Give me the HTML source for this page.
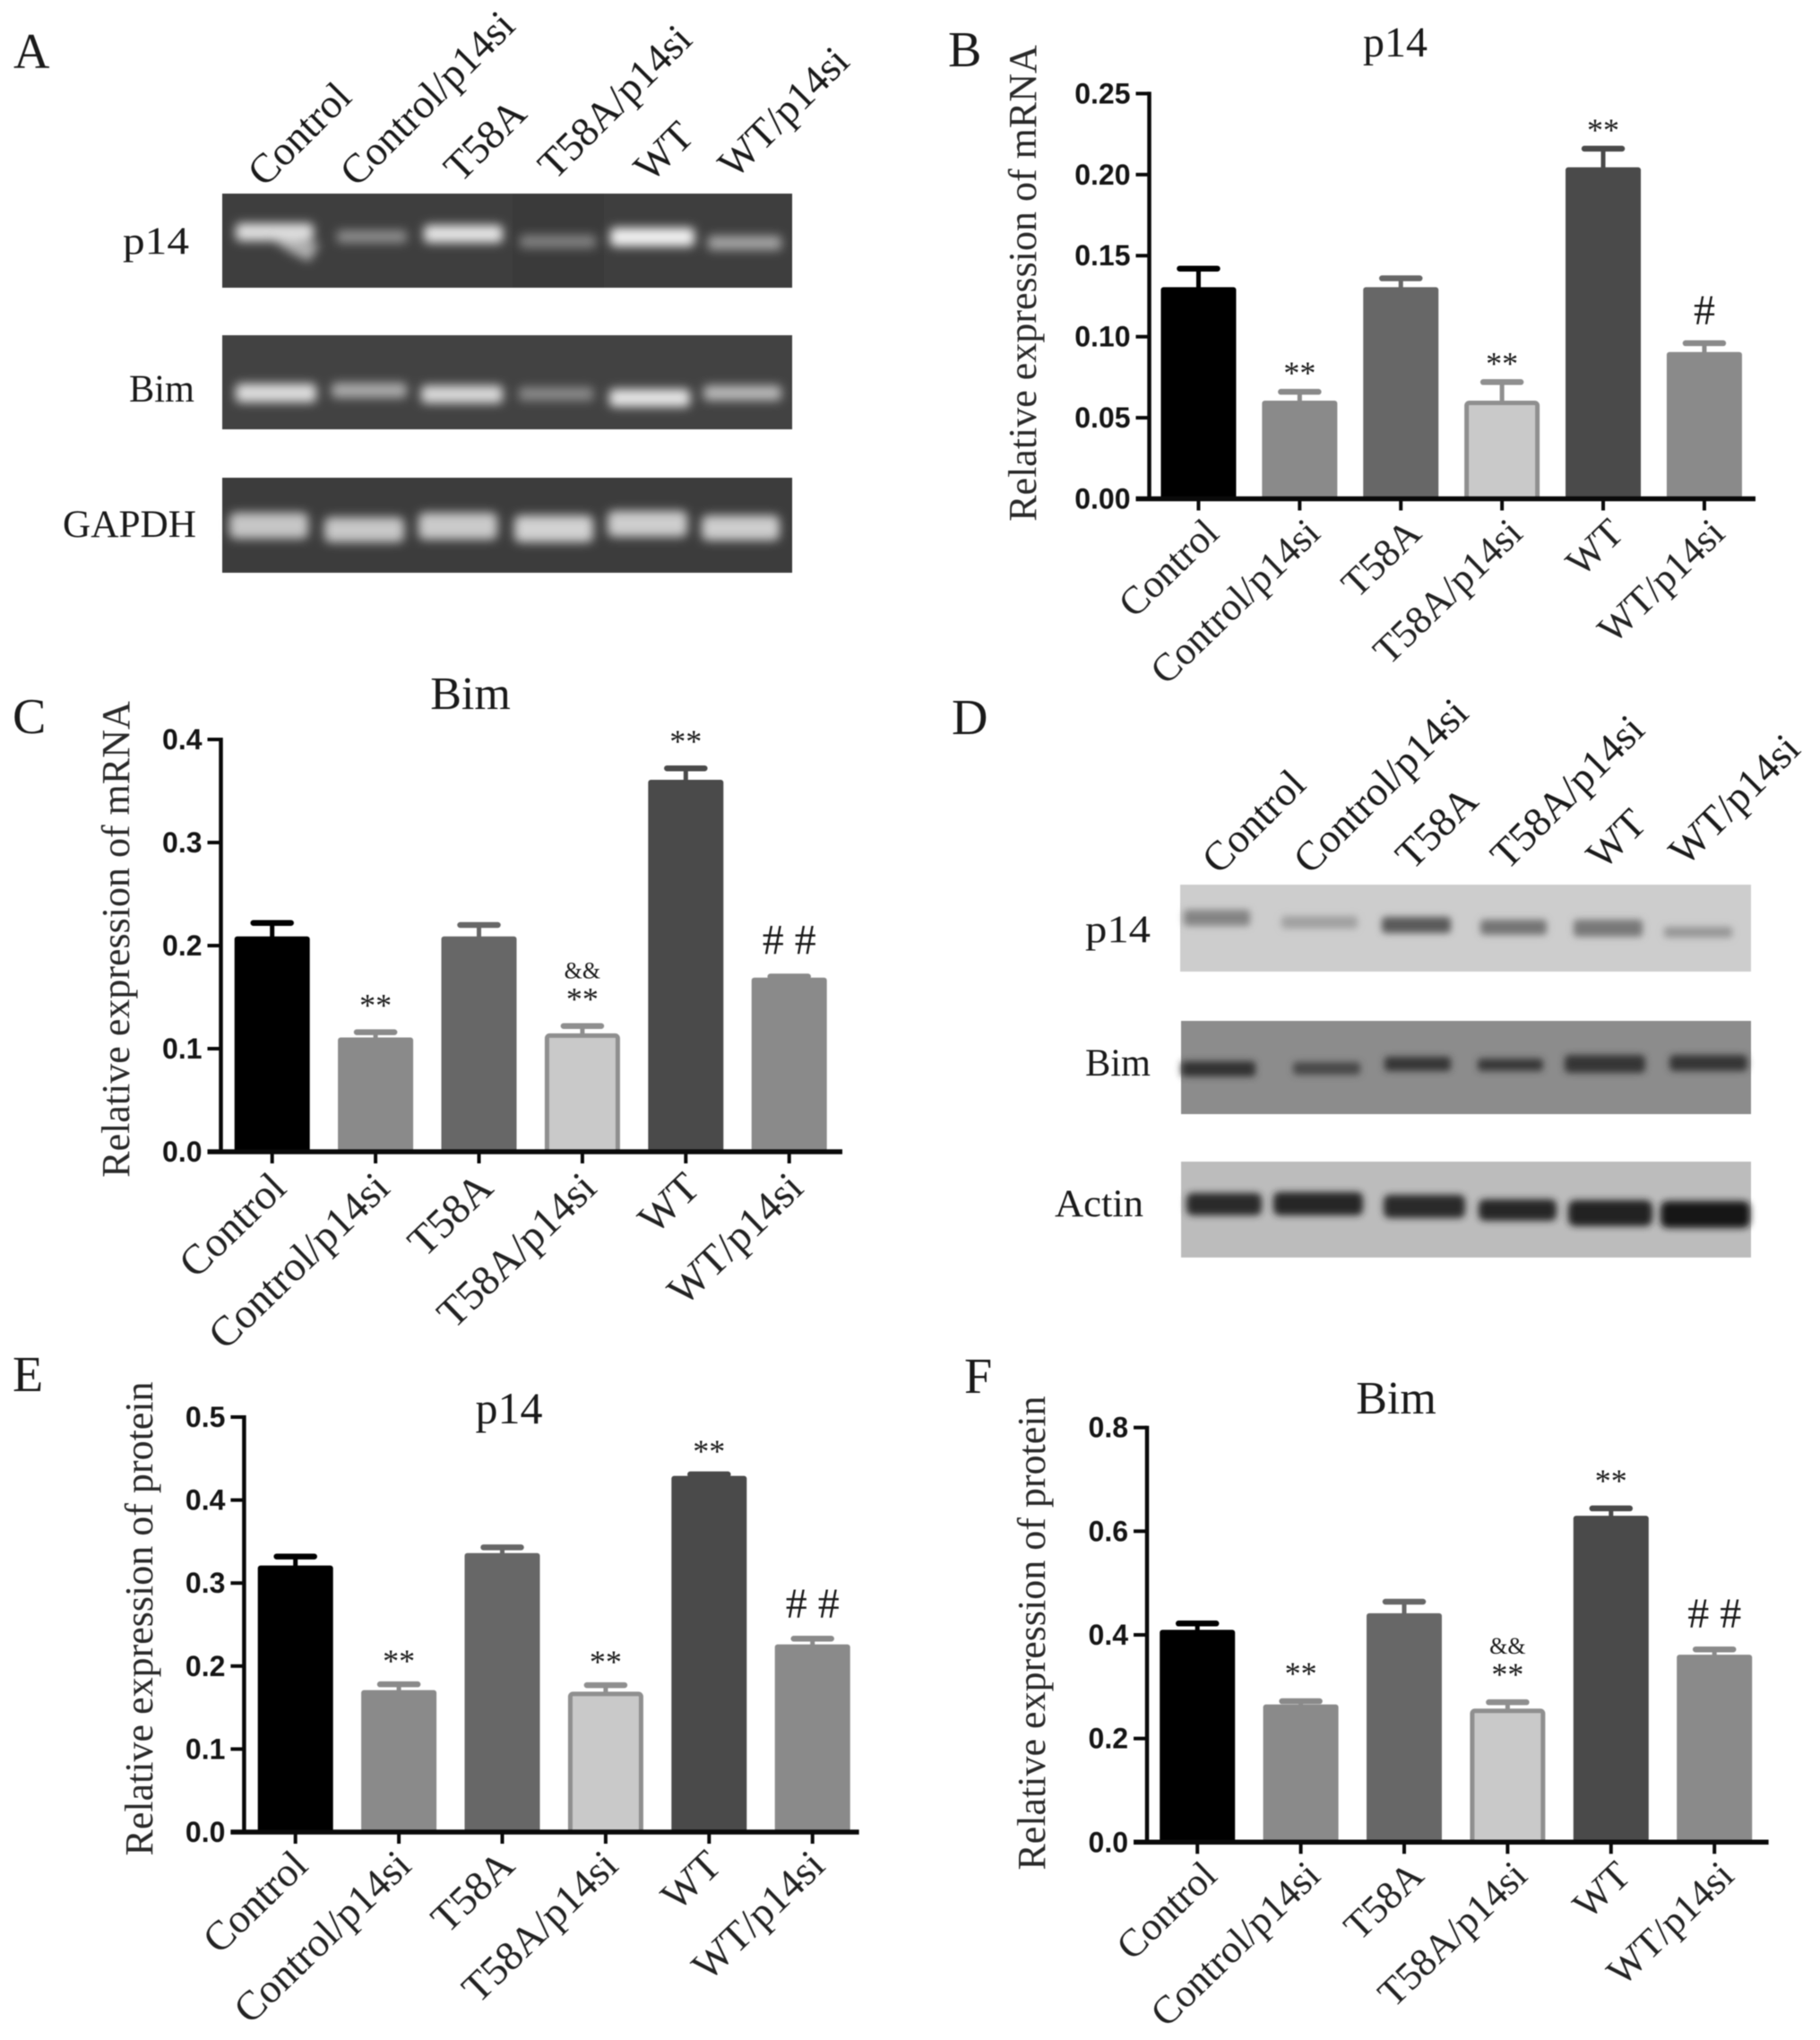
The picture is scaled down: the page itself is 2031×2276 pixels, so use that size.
<!DOCTYPE html>
<html lang="en">
<head>
<meta charset="utf-8">
<title>p14 and Bim expression figure</title>
<style>
  html, body { margin: 0; padding: 0; background: #fff; }
  svg { display: block; filter: blur(0.6px); }
  text { font-family: "Liberation Serif", serif; fill: #1a1a1a; }
  .tick-y { font-family: "Liberation Sans", sans-serif; font-weight: 700; font-size: 32px; fill: #151515; }
  .letter { font-size: 56px; }
  .gel-label { font-size: 43px; }
  .lane { font-size: 46px; }
  .tick-x { fill: #222; }
  .y-title { font-size: 44px; fill: #2a2a2a; }
</style>
</head>
<body>
<svg id="figure" xmlns="http://www.w3.org/2000/svg" width="2031" height="2276" viewBox="0 0 2031 2276">
  <defs>
    <filter id="blur-soft" x="-30%" y="-100%" width="160%" height="300%"><feGaussianBlur stdDeviation="5.5"/></filter>
    <filter id="blur-wb" x="-20%" y="-80%" width="140%" height="260%"><feGaussianBlur stdDeviation="4"/></filter>
  </defs>
  <rect width="2031" height="2276" fill="#fff"/>

  <text class="letter" x="15" y="76">A</text>
  <text class="letter" x="1058" y="74">B</text>
  <text class="letter" x="14" y="818">C</text>
  <text class="letter" x="1062" y="819">D</text>
  <text class="letter" x="14" y="1552">E</text>
  <text class="letter" x="1076" y="1554">F</text>

  <!-- Panel A: RT-PCR gel -->
  <g>
    <g class="lane" fill="#1a1a1a">
      <text x="295" y="210" transform="rotate(-45 295 210)">Control</text>
      <text x="398" y="210" transform="rotate(-45 398 210)">Control/p14si</text>
      <text x="514" y="205" transform="rotate(-45 514 205)">T58A</text>
      <text x="619" y="202" transform="rotate(-45 619 202)">T58A/p14si</text>
      <text x="726" y="205" transform="rotate(-45 726 205)">WT</text>
      <text x="820" y="201" transform="rotate(-45 820 201)">WT/p14si</text>
    </g>
    <text class="gel-label" x="137" y="283" textLength="74" lengthAdjust="spacingAndGlyphs">p14</text>
    <text class="gel-label" x="144" y="448" textLength="73" lengthAdjust="spacingAndGlyphs">Bim</text>
    <text class="gel-label" x="70" y="599" textLength="149" lengthAdjust="spacingAndGlyphs">GAPDH</text>

    <g>
      <rect x="248" y="216" width="636" height="105" fill="#3e3e3e"/>
      <rect x="572" y="216" width="102" height="105" fill="#3a3a3a"/>
      <g filter="url(#blur-soft)">
        <rect x="263" y="249" width="87" height="20" rx="5" fill="#dedede"/>
        <polygon points="300,266 357,272 345,292 325,282" fill="#b0b0b0"/>
        <rect x="376" y="257" width="78" height="14" rx="4" fill="#8e8e8e"/>
        <rect x="473" y="251" width="88" height="20" rx="5" fill="#e4e4e4"/>
        <rect x="580" y="262" width="85" height="15" rx="4" fill="#808080"/>
        <rect x="681" y="254" width="94" height="21" rx="5" fill="#f0f0f0"/>
        <rect x="790" y="263" width="82" height="16" rx="4" fill="#a4a4a4"/>
      </g>
    </g>
    <g>
      <rect x="248" y="374" width="636" height="105" fill="#424242"/>
      <g filter="url(#blur-soft)">
        <rect x="263" y="428" width="90" height="21" rx="5" fill="#dcdcdc"/>
        <rect x="370" y="427" width="84" height="17" rx="5" fill="#aaaaaa"/>
        <rect x="470" y="430" width="91" height="20" rx="5" fill="#d8d8d8"/>
        <rect x="579" y="432" width="83" height="15" rx="4" fill="#8a8a8a"/>
        <rect x="680" y="434" width="90" height="20" rx="5" fill="#e4e4e4"/>
        <rect x="785" y="430" width="87" height="17" rx="5" fill="#b8b8b8"/>
      </g>
    </g>
    <g>
      <rect x="248" y="533" width="636" height="106" fill="#3c3c3c"/>
      <g filter="url(#blur-soft)">
        <rect x="256" y="572" width="88" height="29" rx="7" fill="#c6c6c6"/>
        <rect x="362" y="577" width="89" height="28" rx="7" fill="#c8c8c8"/>
        <rect x="467" y="572" width="88" height="30" rx="7" fill="#cacaca"/>
        <rect x="574" y="575" width="88" height="30" rx="7" fill="#d2d2d2"/>
        <rect x="678" y="570" width="89" height="29" rx="7" fill="#cecece"/>
        <rect x="783" y="575" width="87" height="28" rx="7" fill="#cecece"/>
      </g>
    </g>
  </g>

  <!-- Panel D: western blot -->
  <g>
    <g class="lane" fill="#1a1a1a">
      <text x="1360" y="977" transform="rotate(-45 1360 977)">Control</text>
      <text x="1462" y="977" transform="rotate(-45 1462 977)">Control/p14si</text>
      <text x="1576" y="972" transform="rotate(-45 1576 972)">T58A</text>
      <text x="1682" y="972" transform="rotate(-45 1682 972)">T58A/p14si</text>
      <text x="1789" y="972" transform="rotate(-45 1789 972)">WT</text>
      <text x="1881" y="968" transform="rotate(-45 1881 968)">WT/p14si</text>
    </g>
    <text class="gel-label" x="1211" y="1051" textLength="73" lengthAdjust="spacingAndGlyphs">p14</text>
    <text class="gel-label" x="1211" y="1200" textLength="73" lengthAdjust="spacingAndGlyphs">Bim</text>
    <text class="gel-label" x="1177" y="1357" textLength="99" lengthAdjust="spacingAndGlyphs">Actin</text>

    <g>
      <rect x="1317" y="987" width="637" height="97" fill="#cdcdcd"/>
      <g filter="url(#blur-wb)">
        <rect x="1321" y="1015" width="74" height="18" rx="4" fill="#848484"/>
        <rect x="1430" y="1022" width="85" height="14" rx="4" fill="#a0a0a0"/>
        <rect x="1542" y="1023" width="77" height="18" rx="4" fill="#5a5a5a"/>
        <rect x="1652" y="1026" width="74" height="17" rx="4" fill="#747474"/>
        <rect x="1756" y="1026" width="77" height="19" rx="4" fill="#787878"/>
        <rect x="1857" y="1034" width="76" height="12" rx="3" fill="#969696"/>
      </g>
    </g>
    <g>
      <rect x="1318" y="1139" width="636" height="104" fill="#8c8c8c"/>
      <g filter="url(#blur-wb)">
        <rect x="1318" y="1184" width="83" height="17" rx="4" fill="#323232"/>
        <rect x="1443" y="1185" width="75" height="14" rx="4" fill="#464646"/>
        <rect x="1545" y="1179" width="74" height="16" rx="4" fill="#363636"/>
        <rect x="1649" y="1181" width="73" height="14" rx="4" fill="#383838"/>
        <rect x="1746" y="1177" width="90" height="20" rx="5" fill="#343434"/>
        <rect x="1863" y="1177" width="87" height="18" rx="5" fill="#363636"/>
      </g>
    </g>
    <g>
      <rect x="1318" y="1296" width="636" height="107" fill="#bcbcbc"/>
      <g filter="url(#blur-wb)">
        <rect x="1324" y="1331" width="84" height="25" rx="7" fill="#2a2a2a"/>
        <rect x="1421" y="1330" width="100" height="26" rx="7" fill="#262626"/>
        <rect x="1544" y="1333" width="91" height="26" rx="7" fill="#2a2a2a"/>
        <rect x="1650" y="1338" width="87" height="24" rx="7" fill="#282828"/>
        <rect x="1750" y="1339" width="94" height="29" rx="8" fill="#202020"/>
        <rect x="1853" y="1340" width="100" height="30" rx="8" fill="#121212"/>
      </g>
    </g>
  </g>
</svg>

<script>
// Shared categories
const categories = ['Control', 'Control/p14si', 'T58A', 'T58A/p14si', 'WT', 'WT/p14si'];

// Panel B: p14 mRNA
const p14MrnaMeans = [0.130, 0.060, 0.130, 0.060, 0.204, 0.090];
const p14MrnaErrors = [0.012, 0.006, 0.006, 0.012, 0.012, 0.006];
const p14MrnaTicks = ['0.00', '0.05', '0.10', '0.15', '0.20', '0.25'];
const p14MrnaMarks = ['', '**', '', '**', '**', '#'];
const p14MrnaExtras = ['', '', '', '', '', ''];

// Panel C: Bim mRNA
const bimMrnaMeans = [0.208, 0.110, 0.208, 0.114, 0.360, 0.168];
const bimMrnaErrors = [0.014, 0.006, 0.012, 0.008, 0.012, 0.002];
const bimMrnaTicks = ['0.0', '0.1', '0.2', '0.3', '0.4'];
const bimMrnaMarks = ['', '**', '', '**', '**', '# #'];
const bimMrnaExtras = ['', '', '', '&&', '', ''];

// Panel E: p14 protein
const p14ProteinMeans = [0.320, 0.170, 0.335, 0.168, 0.428, 0.225];
const p14ProteinErrors = [0.012, 0.008, 0.008, 0.009, 0.003, 0.008];
const p14ProteinTicks = ['0.0', '0.1', '0.2', '0.3', '0.4', '0.5'];
const p14ProteinMarks = ['', '**', '', '**', '**', '# #'];
const p14ProteinExtras = ['', '', '', '', '', ''];

// Panel F: Bim protein
const bimProteinMeans = [0.408, 0.264, 0.440, 0.256, 0.628, 0.360];
const bimProteinErrors = [0.014, 0.008, 0.024, 0.014, 0.016, 0.012];
const bimProteinTicks = ['0.0', '0.2', '0.4', '0.6', '0.8'];
const bimProteinMarks = ['', '**', '', '**', '**', '# #'];
const bimProteinExtras = ['', '', '', '&&', '', ''];

const barFills = ['#000000', '#8a8a8a', '#676767', '#c9c9c9', '#4a4a4a', '#8a8a8a'];
const barEdges = ['#000000', '#8a8a8a', '#676767', '#8f8f8f', '#4a4a4a', '#8a8a8a'];

const NS = 'http://www.w3.org/2000/svg';
const root = document.getElementById('figure');

function mk(tag, attrs, parent, content) {
  const el = document.createElementNS(NS, tag);
  for (const k in attrs) el.setAttribute(k, attrs[k]);
  if (content !== undefined) el.textContent = content;
  parent.appendChild(el);
  return el;
}

function drawChart(cfg) {
  const g = mk('g', {}, root);
  
  

  const yMax = parseFloat(cfg.ticks[cfg.ticks.length - 1]);
  const y = v => cfg.zeroY - (v / yMax) * (cfg.zeroY - cfg.topY);
  const x = i => cfg.startX + (i + 0.5) * cfg.step;
  const barW = 84;
  const capW = 42;

  // error bars (behind bars)
  cfg.means.forEach((m, i) => {
    const top = y(m + cfg.errors[i]);
    const stem = mk('line', { x1: x(i), x2: x(i), y1: y(m), y2: top, stroke: barEdges[i], 'stroke-width': 5 }, g);
    
    
    const cap = mk('line', { x1: x(i) - capW / 2, x2: x(i) + capW / 2, y1: top, y2: top, stroke: barEdges[i], 'stroke-width': 6.5, 'stroke-linecap': 'round' }, g);
    
    
  });

  // bars
  cfg.means.forEach((m, i) => {
    const inset = i === 3 ? 2.5 : 0;
    const bar = mk('rect', {
      x: x(i) - barW / 2 + inset,
      y: y(m) + inset - 1,
      width: barW - 2 * inset,
      height: cfg.zeroY - y(m) - inset + 1,
      rx: 3,
      fill: barFills[i],
      stroke: i === 3 ? barEdges[i] : 'none',
      'stroke-width': i === 3 ? 5 : 0
    }, g);
    
    
  });

  // axes
  const yAxis = mk('line', { x1: cfg.axisX, x2: cfg.axisX, y1: cfg.topY - 2, y2: cfg.zeroY + 2, stroke: '#0a0a0a', 'stroke-width': 4.5 }, g);
  
  
  const xAxis = mk('line', { x1: cfg.axisX - 15, x2: cfg.axisEnd, y1: cfg.zeroY, y2: cfg.zeroY, stroke: '#0a0a0a', 'stroke-width': 5.5 }, g);
  
  

  // y ticks
  cfg.ticks.forEach(t => {
    const v = parseFloat(t);
    const tick = mk('line', { x1: cfg.axisX - 15, x2: cfg.axisX, y1: y(v), y2: y(v), stroke: '#0a0a0a', 'stroke-width': 4 }, g);
    
    
    const label = mk('text', { x: cfg.axisX - 21, y: y(v) + 11, 'text-anchor': 'end', class: 'tick-y' }, g, t);
    
    
  });

  // x ticks and rotated labels
  categories.forEach((c, i) => {
    const tick = mk('line', { x1: x(i), x2: x(i), y1: cfg.zeroY, y2: cfg.zeroY + 13, stroke: '#0a0a0a', 'stroke-width': 4 }, g);
    
    
    const lx = x(i) + cfg.labelDx;
    const ly = cfg.zeroY + cfg.labelDy;
    const label = mk('text', { x: lx, y: ly, 'text-anchor': 'end', class: 'tick-x', 'font-size': cfg.labelSize, transform: 'rotate(-44 ' + lx + ' ' + ly + ')' }, g, c);
    
    
  });

  // significance marks
  cfg.marks.forEach((mark, i) => {
    if (!mark) return;
    const top = y(cfg.means[i] + cfg.errors[i]);
    const isHash = mark.indexOf('#') >= 0;
    const size = isHash ? 48 : 36;
    const baseline = isHash ? top - cfg.hashGap + 16 : top - cfg.starGap + 16;
    const t = mk('text', { x: x(i), y: baseline, 'text-anchor': 'middle', 'font-size': size, fill: '#222' }, g, mark);
    
    
  });
  cfg.extras.forEach((mark, i) => {
    if (!mark) return;
    const top = y(cfg.means[i] + cfg.errors[i]);
    const t = mk('text', { x: x(i), y: top - cfg.starGap - 27 + 8, 'text-anchor': 'middle', 'font-size': 26, fill: '#222' }, g, mark);
    
    
  });

  // titles
  const title = mk('text', { x: cfg.titleX, y: cfg.titleY, 'text-anchor': 'middle', 'font-size': cfg.titleSize, fill: '#222' }, g, cfg.title);
  
  
  const yt = mk('text', { x: cfg.yTitleX, y: cfg.yTitleY, 'text-anchor': 'middle', class: 'y-title', transform: 'rotate(-90 ' + cfg.yTitleX + ' ' + cfg.yTitleY + ')' }, g, cfg.yTitle);
  
  
}

drawChart({
  name: 'panel-b-p14-mrna-chart', means: p14MrnaMeans, errors: p14MrnaErrors, ticks: p14MrnaTicks,
  marks: p14MrnaMarks, extras: p14MrnaExtras, title: 'p14', yTitle: 'Relative expression of mRNA',
  startX: 1281, step: 112.9, axisX: 1282.5, axisEnd: 1959, topY: 104.4, zeroY: 556.5,
  starGap: 25, hashGap: 37, titleX: 1557, titleY: 63, titleSize: 48, yTitleX: 1156, yTitleY: 316,
  labelSize: 44, labelDx: 25, labelDy: 41
});
drawChart({
  name: 'panel-c-bim-mrna-chart', means: bimMrnaMeans, errors: bimMrnaErrors, ticks: bimMrnaTicks,
  marks: bimMrnaMarks, extras: bimMrnaExtras, title: 'Bim', yTitle: 'Relative expression of mRNA',
  startX: 246, step: 115.4, axisX: 246.5, axisEnd: 940, topY: 825, zeroY: 1285,
  starGap: 34, hashGap: 41, titleX: 525, titleY: 791, titleSize: 52, yTitleX: 144, yTitleY: 1048,
  labelSize: 47, labelDx: 18, labelDy: 43
});
drawChart({
  name: 'panel-e-p14-protein-chart', means: p14ProteinMeans, errors: p14ProteinErrors, ticks: p14ProteinTicks,
  marks: p14ProteinMarks, extras: p14ProteinExtras, title: 'p14', yTitle: 'Relative expression of protein',
  startX: 272, step: 115.4, axisX: 272.4, axisEnd: 958.6, topY: 1581, zeroY: 2044,
  starGap: 30, hashGap: 39, titleX: 568, titleY: 1588, titleSize: 50, yTitleX: 170, yTitleY: 1806,
  labelSize: 46, labelDx: 16, labelDy: 40
});
drawChart({
  name: 'panel-f-bim-protein-chart', means: bimProteinMeans, errors: bimProteinErrors, ticks: bimProteinTicks,
  marks: bimProteinMarks, extras: bimProteinExtras, title: 'Bim', yTitle: 'Relative expression of protein',
  startX: 1278.5, step: 115.4, axisX: 1280, axisEnd: 1973.6, topY: 1592.7, zeroY: 2055.3,
  starGap: 35, hashGap: 40, titleX: 1558, titleY: 1577, titleSize: 52, yTitleX: 1166, yTitleY: 1822,
  labelSize: 44, labelDx: 24, labelDy: 40
});
</script>
</body>
</html>
